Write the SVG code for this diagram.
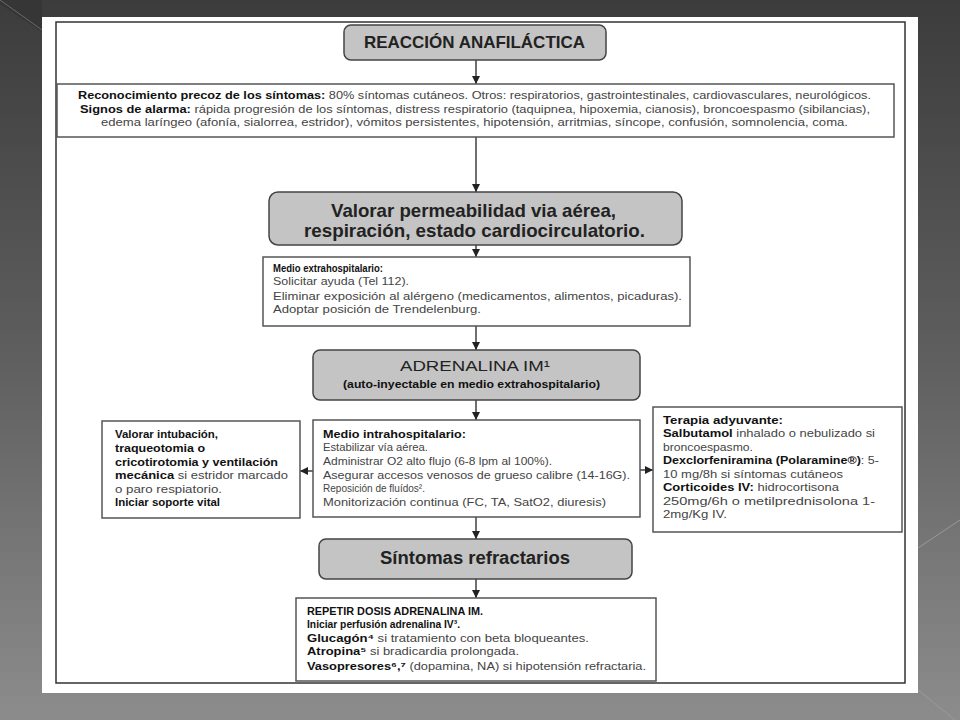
<svg xmlns="http://www.w3.org/2000/svg" width="960" height="720" viewBox="0 0 960 720">
<defs>
<linearGradient id="bg" x1="0" y1="0" x2="0" y2="1">
<stop offset="0" stop-color="#3c3c3c"/>
<stop offset="0.5" stop-color="#5f5f5f"/>
<stop offset="1" stop-color="#8c8c8c"/>
</linearGradient>
<marker id="ah" viewBox="0 0 10 10" refX="10" refY="5" markerWidth="8" markerHeight="8" markerUnits="userSpaceOnUse" orient="auto">
<path d="M0,0 L10,5 L0,10 Z" fill="#222"/>
</marker>
<style>
.g{fill:#c4c4c4;stroke:#444;stroke-width:1.5}
.w{fill:#fff;stroke:#555;stroke-width:1.5}
text{font-family:"Liberation Sans",Arial,sans-serif}
.s{font-size:11px;fill:#444}
.b{font-weight:bold;fill:#111}
.h{fill:#222}
.c{stroke:#222;stroke-width:1.3;fill:none;marker-end:url(#ah)}
</style>
</defs>
<rect width="960" height="720" fill="url(#bg)"/>
<path d="M0,0 L0,4 L42,32 L42,0 Z" fill="#363636"/>
<path d="M0,0 L42,30" stroke="#6a6a6a" stroke-width="1"/>
<path d="M918,548 L960,520" stroke="#9a9a9a" stroke-width="1"/>
<path d="M918,690 L955,720" stroke="#9a9a9a" stroke-width="1"/>
<rect x="42" y="17" width="876" height="676" fill="#fff"/>
<rect x="56" y="22" width="849" height="661" fill="none" stroke="#333" stroke-width="1.5"/>

<g id="connectors">
<line class="c" x1="476" y1="60" x2="476" y2="84"/>
<line class="c" x1="476" y1="137" x2="476" y2="192"/>
<line class="c" x1="476" y1="245" x2="476" y2="257"/>
<line class="c" x1="476" y1="326" x2="476" y2="350"/>
<line class="c" x1="476" y1="400" x2="476" y2="420"/>
<line class="c" x1="476" y1="517" x2="476" y2="539"/>
<line class="c" x1="476" y1="579" x2="476" y2="598"/>
<line class="c" x1="313" y1="471" x2="300" y2="471"/>
<line class="c" x1="640" y1="470" x2="653" y2="470"/>
</g>

<g id="n1">
<rect class="g" x="344" y="25" width="262" height="35" rx="7"/>
<text x="474.5" y="48" font-size="17" font-weight="bold" text-anchor="middle" class="h" textLength="221" lengthAdjust="spacingAndGlyphs">REACCIÓN ANAFILÁCTICA</text>
</g>

<g id="n2">
<rect class="w" x="57" y="84" width="837" height="53"/>
<text class="s" x="78" y="99" textLength="793" lengthAdjust="spacingAndGlyphs"><tspan class="b">Reconocimiento precoz de los síntomas:</tspan> 80% síntomas cutáneos. Otros: respiratorios, gastrointestinales, cardiovasculares, neurológicos.</text>
<text class="s" x="80" y="112.5" textLength="790" lengthAdjust="spacingAndGlyphs"><tspan class="b">Signos de alarma:</tspan> rápida progresión de los síntomas, distress respiratorio (taquipnea, hipoxemia, cianosis), broncoespasmo (sibilancias),</text>
<text class="s" x="101" y="126" textLength="747" lengthAdjust="spacingAndGlyphs">edema laríngeo (afonía, sialorrea, estridor), vómitos persistentes, hipotensión, arritmias, síncope, confusión, somnolencia, coma.</text>
</g>

<g id="n3">
<rect class="g" x="269" y="192" width="413" height="53" rx="9"/>
<text x="473.5" y="216.5" font-size="19" text-anchor="middle" class="h" font-weight="bold" textLength="285" lengthAdjust="spacingAndGlyphs">Valorar permeabilidad via aérea,</text>
<text x="474.5" y="236.5" font-size="19" text-anchor="middle" class="h" font-weight="bold" textLength="341" lengthAdjust="spacingAndGlyphs">respiración, estado cardiocirculatorio.</text>
</g>

<g id="n4">
<rect class="w" x="263" y="257" width="427" height="69"/>
<text class="s b" x="273" y="272" textLength="110" lengthAdjust="spacingAndGlyphs">Medio extrahospitalario:</text>
<text class="s" x="273" y="284.5" textLength="136" lengthAdjust="spacingAndGlyphs">Solicitar ayuda (Tel 112).</text>
<text class="s" x="273" y="299.5" textLength="409" lengthAdjust="spacingAndGlyphs">Eliminar exposición al alérgeno (medicamentos, alimentos, picaduras).</text>
<text class="s" x="273" y="312.5" textLength="208" lengthAdjust="spacingAndGlyphs">Adoptar posición de Trendelenburg.</text>
</g>

<g id="n5">
<rect class="g" x="313" y="350" width="327" height="50" rx="7"/>
<text x="475" y="371" font-size="15" text-anchor="middle" class="h" textLength="150" lengthAdjust="spacingAndGlyphs">ADRENALINA IM¹</text>
<text class="s b" x="471.5" y="388" text-anchor="middle" textLength="257" lengthAdjust="spacingAndGlyphs">(auto-inyectable en medio extrahospitalario)</text>
</g>

<g id="n6">
<rect class="w" x="313" y="420" width="327" height="97"/>
<text class="s b" x="323" y="437.5" textLength="143" lengthAdjust="spacingAndGlyphs">Medio intrahospitalario:</text>
<text class="s" x="323" y="451" textLength="105" lengthAdjust="spacingAndGlyphs">Estabilizar vía aérea.</text>
<text class="s" x="323" y="465" textLength="229" lengthAdjust="spacingAndGlyphs">Administrar O2 alto flujo (6-8 lpm al 100%).</text>
<text class="s" x="323" y="478.5" textLength="307" lengthAdjust="spacingAndGlyphs">Asegurar accesos venosos de grueso calibre (14-16G).</text>
<text class="s" x="323" y="492" textLength="102" lengthAdjust="spacingAndGlyphs">Reposición de fluídos².</text>
<text class="s" x="323" y="505.5" textLength="283" lengthAdjust="spacingAndGlyphs">Monitorización continua (FC, TA, SatO2, diuresis)</text>
</g>

<g id="n7">
<rect class="w" x="102" y="421" width="198" height="97"/>
<text class="s b" x="115" y="437.5" textLength="103" lengthAdjust="spacingAndGlyphs">Valorar intubación,</text>
<text class="s b" x="115" y="451.5" textLength="90" lengthAdjust="spacingAndGlyphs">traqueotomia o</text>
<text class="s b" x="115" y="465.5" textLength="163" lengthAdjust="spacingAndGlyphs">cricotirotomia y ventilación</text>
<text class="s" x="115" y="479" textLength="173" lengthAdjust="spacingAndGlyphs"><tspan class="b">mecánica</tspan> si estridor marcado</text>
<text class="s" x="115" y="492.5" textLength="107" lengthAdjust="spacingAndGlyphs">o paro respiatorio.</text>
<text class="s b" x="115" y="505.5" textLength="105" lengthAdjust="spacingAndGlyphs">Iniciar soporte vital</text>
</g>

<g id="n8">
<rect class="w" x="653" y="407" width="249" height="125"/>
<text class="s b" x="663" y="423.5" textLength="120" lengthAdjust="spacingAndGlyphs">Terapia adyuvante:</text>
<text class="s" x="663" y="437" textLength="212" lengthAdjust="spacingAndGlyphs"><tspan class="b">Salbutamol</tspan>  inhalado o nebulizado si</text>
<text class="s" x="663" y="450.5" textLength="90" lengthAdjust="spacingAndGlyphs">broncoespasmo.</text>
<text class="s" x="663" y="464" textLength="216" lengthAdjust="spacingAndGlyphs"><tspan class="b">Dexclorfeniramina (Polaramine®)</tspan>: 5-</text>
<text class="s" x="663" y="477.5" textLength="180" lengthAdjust="spacingAndGlyphs">10 mg/8h si síntomas cutáneos</text>
<text class="s" x="663" y="491" textLength="176" lengthAdjust="spacingAndGlyphs"><tspan class="b">Corticoides IV:</tspan> hidrocortisona</text>
<text class="s" x="663" y="504.5" textLength="212" lengthAdjust="spacingAndGlyphs">250mg/6h o metilprednisolona 1-</text>
<text class="s" x="663" y="518" textLength="64" lengthAdjust="spacingAndGlyphs">2mg/Kg IV.</text>
</g>

<g id="n9">
<rect class="g" x="319" y="539" width="313" height="40" rx="7"/>
<text x="475" y="564" font-size="18" text-anchor="middle" class="h" font-weight="bold" textLength="190" lengthAdjust="spacingAndGlyphs">Síntomas refractarios</text>
</g>

<g id="n10">
<rect class="w" x="296" y="598" width="360" height="83"/>
<text class="s b" x="307" y="614.5" textLength="176" lengthAdjust="spacingAndGlyphs">REPETIR DOSIS ADRENALINA IM.</text>
<text class="s b" x="307" y="628" textLength="153" lengthAdjust="spacingAndGlyphs">Iniciar perfusión adrenalina IV³.</text>
<text class="s" x="307" y="641.5" textLength="282" lengthAdjust="spacingAndGlyphs"><tspan class="b">Glucagón⁴</tspan> si tratamiento con beta bloqueantes.</text>
<text class="s" x="307" y="655" textLength="212" lengthAdjust="spacingAndGlyphs"><tspan class="b">Atropina⁵</tspan> si bradicardia prolongada.</text>
<text class="s" x="307" y="669.5" textLength="339" lengthAdjust="spacingAndGlyphs"><tspan class="b">Vasopresores⁶,⁷</tspan> (dopamina, NA) si hipotensión refractaria.</text>
</g>
</svg>
